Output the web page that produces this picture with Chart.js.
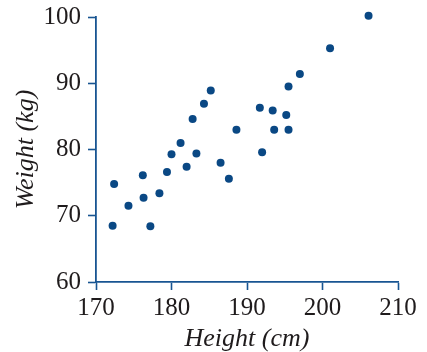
<!DOCTYPE html>
<html>
<head>
<meta charset="utf-8">
<script src="https://cdn.jsdelivr.net/npm/chart.js@4/dist/chart.umd.min.js"></script>
<style>
  html, body { margin: 0; padding: 0; background: #ffffff; }
  #wrap { width: 427px; height: 352px; }
</style>
</head>
<body>
<div id="wrap"><canvas id="c" width="427" height="352"></canvas></div>
<script>
// Height (cm) and weight (kg) for each person
const heights = [172.2, 172.4, 174.3, 176.2, 176.3, 177.2, 178.4, 179.4, 180.0, 181.2,
                 182.0, 182.8, 183.3, 184.3, 185.2, 186.5, 187.6, 188.6, 191.7, 192.0,
                 193.4, 193.6, 195.2, 195.5, 195.5, 197.0, 201.0, 206.1];
const weights = [68.5, 74.8, 71.5, 76.1, 72.7, 68.4, 73.4, 76.6, 79.3, 81.0,
                 77.4, 84.6, 79.4, 86.9, 88.9, 78.0, 75.6, 83.0, 86.3, 79.6,
                 85.9, 83.0, 85.2, 83.0, 89.5, 91.4, 95.3, 100.2];

const xTicks = [170, 180, 190, 200, 210];
const yTicks = [60, 70, 80, 90, 100];

const xTitle = 'Height (cm)';
const yTitle = 'Weight (kg)';

const points = heights.map((h, i) => ({ x: h, y: weights[i] }));

const axisColor = '#185592';
const dotColor = '#0a4884';
const textColor = '#1f1b1c';
const serif = "'Liberation Serif', 'DejaVu Serif', serif";

function axisOptions(ticks, title, fixedSize, horizontal) {
  return {
    type: 'linear',
    min: ticks[0],
    max: ticks[ticks.length - 1],
    afterBuildTicks: (scale) => { scale.ticks = ticks.map(v => ({ value: v })); },
    afterFit: (scale) => {
      // fixed axis band; the outer plot margins come from layout.padding
      if (horizontal) {
        scale.height = fixedSize;
        scale.paddingLeft = 0;
        scale.paddingRight = 0;
      } else {
        scale.width = fixedSize;
        scale.paddingTop = 0;
        scale.paddingBottom = 0;
      }
    },
    grid: {
      display: true,
      drawOnChartArea: false,
      drawTicks: true,
      tickLength: 8,
      tickWidth: 1.6,
      tickColor: axisColor,
      color: axisColor
    },
    border: { display: true, color: axisColor, width: 1.8 },
    ticks: {
      color: textColor,
      padding: horizontal ? 3 : 7,
      maxRotation: 0,
      font: { family: serif, size: 25, lineHeight: 1.2 }
    },
    title: {
      display: true,
      text: title,
      color: textColor,
      padding: horizontal ? { top: 5, bottom: 0 } : { top: 13, bottom: 0 },
      font: { family: serif, size: 26, style: 'italic', lineHeight: 1.0 }
    }
  };
}

new Chart(document.getElementById('c'), {
  type: 'scatter',
  data: {
    datasets: [{
      data: points,
      backgroundColor: dotColor,
      borderWidth: 0,
      pointRadius: 4,
      pointHoverRadius: 4,
      clip: false
    }]
  },
  options: {
    responsive: false,
    animation: false,
    events: [],
    layout: { padding: { left: 0, right: 29, top: 17, bottom: 0 } },
    plugins: {
      legend: { display: false },
      tooltip: { enabled: false }
    },
    scales: {
      x: axisOptions(xTicks, xTitle, 70, true),
      y: axisOptions(yTicks, yTitle, 96, false)
    }
  }
});
</script>
</body>
</html>
